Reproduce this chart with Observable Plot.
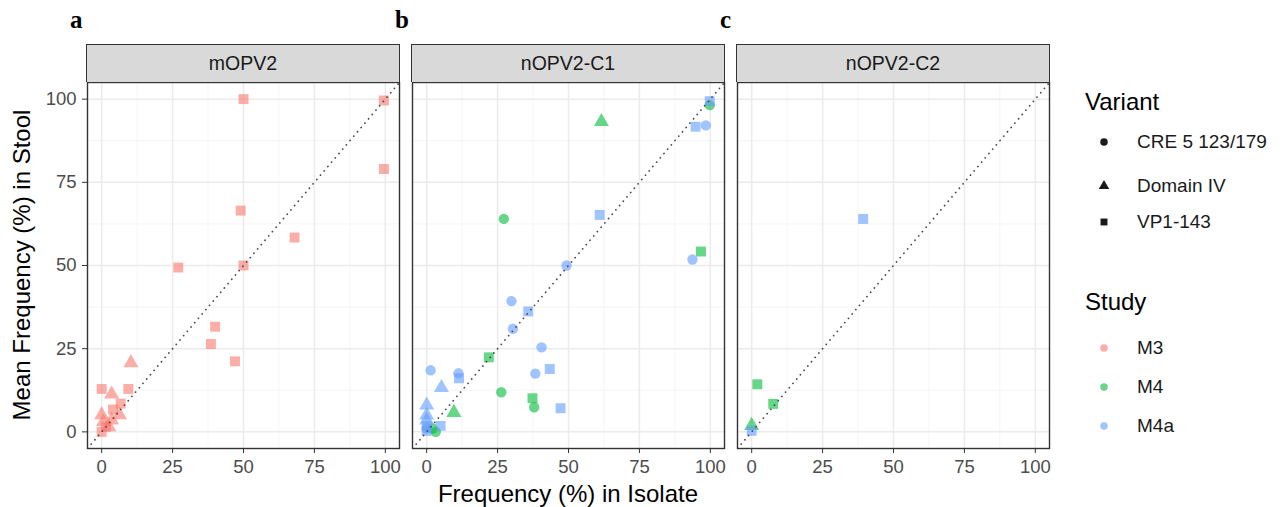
<!DOCTYPE html>
<html><head><meta charset="utf-8">
<script src="https://cdn.jsdelivr.net/npm/d3@7"></script>
<script src="https://cdn.jsdelivr.net/npm/@observablehq/plot@0.6"></script>
<style>
body{margin:0;background:#fff;font-family:"Liberation Sans",Arial,sans-serif;}
#root{position:relative;width:1284px;height:507px;overflow:hidden;background:#fff;}
.strip{position:absolute;top:44px;height:38px;background:#d9d9d9;border:1.5px solid #333;border-bottom:none;box-sizing:border-box;font-size:19.5px;color:#1a1a1a;display:flex;align-items:center;justify-content:center;}
.letter{position:absolute;top:6px;font-family:"Liberation Serif","DejaVu Serif",serif;font-weight:bold;font-size:25px;color:#000;}
.plotbox{position:absolute;top:80px;}
.plotbox svg{overflow:visible;max-width:none;}
.plotbox svg text{font-size:18.5px !important;font-family:"Liberation Sans",Arial,sans-serif;}
.title{position:absolute;font-size:24px;color:#000;white-space:nowrap;}
.leg{position:absolute;white-space:nowrap;color:#1a1a1a;}
</style></head><body><div id="root"></div>
<script>
// ---- categories ----
const panels = ["mOPV2", "nOPV2-C1", "nOPV2-C2"];
const letters = ["a", "b", "c"];
const studies = ["M3", "M4", "M4a"];
const studyColors = ["#F8766D", "#00BA38", "#619CFF"];
const variants = ["CRE 5 123/179", "Domain IV", "VP1-143"];
const variantSymbols = ["circle", "triangle", "square"];
const ticks = [0, 25, 50, 75, 100];
const minorTicks = [12.5, 37.5, 62.5, 87.5];
const axisDomain = [-5, 105];

// ---- data (parallel arrays) ----
// panel index, study, variant code (C = CRE, T = Domain IV, S = VP1-143), isolate %, stool %
const pointPanel = [
  0,0,0,0,0,0,0,0,0,0,0,0,0,0,0,0, 0,0,0,0,0,0,0,
  1,1,1,1,1,1,1,1,1,1,1,
  1,1,1,1,1,1,1,1,1,1,1,1,1,1,1,1,1,1,1,1,1,1,1,1,
  2,2,2, 2,2
];
const pointStudy = [
  "M3","M3","M3","M3","M3","M3","M3","M3","M3","M3","M3","M3","M3","M3","M3","M3",
  "M3","M3","M3","M3","M3","M3","M3",
  "M4","M4","M4","M4","M4","M4","M4","M4","M4","M4","M4",
  "M4a","M4a","M4a","M4a","M4a","M4a","M4a","M4a","M4a","M4a","M4a","M4a","M4a","M4a","M4a","M4a","M4a","M4a","M4a","M4a","M4a","M4a","M4a","M4a",
  "M4","M4","M4", "M4a","M4a"
];
const pointVariant = [
  "S","S","S","S","S","S","S","S","S","S","S","S","S","S","S","S",
  "T","T","T","T","T","T","T",
  "C","T","S","C","S","C","S","C","T","C","C",
  "S","S","C","S","C","C","C","S","C","C","S","C","S","C","C","S","T","T","T","T","S","S","C","S",
  "S","S","T", "S","S"
];
const isolateFreq = [
  50, 99.5, 99.5, 49, 68, 27, 50, 40, 38.5, 47, 0, 9.4, 6.7, 4, 1.5, 0,
  10.3, 3.5, 0, 0.6, 2.5, 3.5, 6.3,
  27.2, 61.6, 96.7, 99.8, 21.9, 26.3, 37.3, 37.9, 9.6, 2, 3.2,
  99.8, 94.8, 98.4, 61, 93.7, 49.3, 29.9, 35.8, 30.4, 40.5, 43.4, 38.3, 47.2, 1.4, 11.2, 11.4, 5.2, 0, 0, 0, 4.9, 0, 0, 0,
  2, 7.6, 0, 39.3, 0
];
const stoolFreq = [
  100, 99.6, 79, 66.5, 58.4, 49.4, 50, 31.6, 26.4, 21.2, 12.9, 12.9, 8.5, 6.7, 1.5, 0,
  20.7, 11.3, 5.1, 3, 1.5, 3.5, 5.1,
  64, 93.2, 54.2, 98.2, 22.4, 11.9, 10.1, 7.4, 5.8, 1, 0,
  99.4, 91.7, 92.1, 65.2, 51.8, 50, 39.3, 36.2, 31, 25.4, 18.9, 17.5, 7.1, 18.5, 17.6, 16.1, 13.3, 8, 5, 3.5, 1.8, 1.8, 1, 0.3,
  14.3, 8.4, 1.9, 64, 0.3
];

const variantCode = {C: variants[0], T: variants[1], S: variants[2]};
const points = pointPanel.map((p, i) => ({
  panel: panels[p],
  study: pointStudy[i],
  variant: variantCode[pointVariant[i]],
  isolate: isolateFreq[i],
  stool: stoolFreq[i]
}));
const diagonal = axisDomain.map(v => ({x: v, y: v}));

// ---- layout ----
const root = document.getElementById("root");
const panelLeft = [87, 412, 737];
const panelW = 312, panelH = 366, pad = 2;
const symbolR = {"circle": 5.2, "triangle": 5.6, "square": 5.6};

panels.forEach((name, i) => {
  const mL = i === 0 ? panelLeft[0] : pad;
  const rows = points.filter(d => d.panel === name);
  const marks = [
    Plot.gridX(minorTicks, {stroke: "#f3f3f3", strokeOpacity: 1, strokeWidth: 0.8}),
    Plot.gridY(minorTicks, {stroke: "#f3f3f3", strokeOpacity: 1, strokeWidth: 0.8}),
    Plot.gridX(ticks, {stroke: "#ebebeb", strokeOpacity: 1, strokeWidth: 1.5}),
    Plot.gridY(ticks, {stroke: "#ebebeb", strokeOpacity: 1, strokeWidth: 1.5}),
    ...studies.flatMap(s => variants.map((v, k) => Plot.dot(rows.filter(d => d.study === s && d.variant === v), {
      x: "isolate", y: "stool", fill: "study", symbol: "variant",
      r: symbolR[variantSymbols[k]], fillOpacity: 0.6, stroke: "none"
    }))),
    Plot.line(diagonal, {x: "x", y: "y", stroke: "#444", strokeWidth: 1.7, strokeLinecap: "round", strokeDasharray: "0.1 5.6", clip: true}),
    Plot.frame({stroke: "#333", strokeWidth: 1.4}),
    Plot.axisX(ticks, {tickSize: 5, tickPadding: 6, fontSize: 18.5, label: null, stroke: "#333", fill: "#4d4d4d"})
  ];
  if (i === 0) marks.push(Plot.axisY(ticks, {tickSize: 5, tickPadding: 6, fontSize: 18.5, label: null, stroke: "#333", fill: "#4d4d4d"}));
  const chart = Plot.plot({
    width: mL + panelW + pad,
    height: pad + panelH + 40,
    marginLeft: mL, marginRight: pad, marginTop: pad, marginBottom: 40,
    style: {fontFamily: "Liberation Sans, Arial, sans-serif", fontSize: "18.5px", background: "transparent", overflow: "visible"},
    x: {domain: axisDomain, axis: null},
    y: {domain: axisDomain, axis: null},
    color: {domain: studies, range: studyColors},
    symbol: {domain: variants, range: variantSymbols},
    marks
  });
  const box = document.createElement("div");
  box.className = "plotbox";
  box.style.left = (panelLeft[i] - mL) + "px";
  box.style.top = (82 - pad) + "px";
  box.appendChild(chart);
  root.appendChild(box);

  const strip = document.createElement("div");
  strip.className = "strip";
  strip.style.left = (panelLeft[i] - 0.7) + "px";
  strip.style.width = (panelW + 1.4) + "px";
  strip.textContent = name;
  root.appendChild(strip);

  const let_ = document.createElement("div");
  let_.className = "letter";
  let_.style.left = (panelLeft[i] - 17) + "px";
  let_.textContent = letters[i];
  root.appendChild(let_);
});

// axis titles
const yt = document.createElement("div");
yt.className = "title";
yt.textContent = "Mean Frequency (%) in Stool";
yt.style.left = "22px"; yt.style.top = "265px";
yt.style.transform = "translate(-50%,-50%) rotate(-90deg)";
root.appendChild(yt);
const xt = document.createElement("div");
xt.className = "title";
xt.textContent = "Frequency (%) in Isolate";
xt.style.left = "568px"; xt.style.top = "494px";
xt.style.transform = "translate(-50%,-50%)";
root.appendChild(xt);

// legends
function legTitle(text, y) {
  const d = document.createElement("div");
  d.className = "leg"; d.style.left = "1085px"; d.style.top = (y - 14) + "px";
  d.style.fontSize = "24px"; d.style.color = "#000"; d.textContent = text;
  root.appendChild(d);
}
function legItem(label, y, shape, color, opacity) {
  const s = d3.create("svg").attr("width", 20).attr("height", 20)
    .style("position", "absolute").style("left", "1094px").style("top", (y - 10) + "px");
  s.append("path").attr("transform", "translate(10,10)")
    .attr("d", d3.symbol(shape === "circle" ? d3.symbolCircle : shape === "triangle" ? d3.symbolTriangle : d3.symbolSquare, shape === "circle" ? 44 : 48)())
    .attr("fill", color).attr("fill-opacity", opacity);
  root.appendChild(s.node());
  const d = document.createElement("div");
  d.className = "leg"; d.style.left = "1137px"; d.style.top = (y - 11) + "px";
  d.style.fontSize = "19px"; d.textContent = label;
  root.appendChild(d);
}
legTitle("Variant", 102);
const variantY = [142, 186, 222];
variants.forEach((v, k) => legItem(v, variantY[k], variantSymbols[k], "#1a1a1a", 1));
legTitle("Study", 302);
const studyY = [348, 387, 426];
studies.forEach((s, k) => legItem(s, studyY[k], "circle", studyColors[k], 0.6));
</script></body></html>
